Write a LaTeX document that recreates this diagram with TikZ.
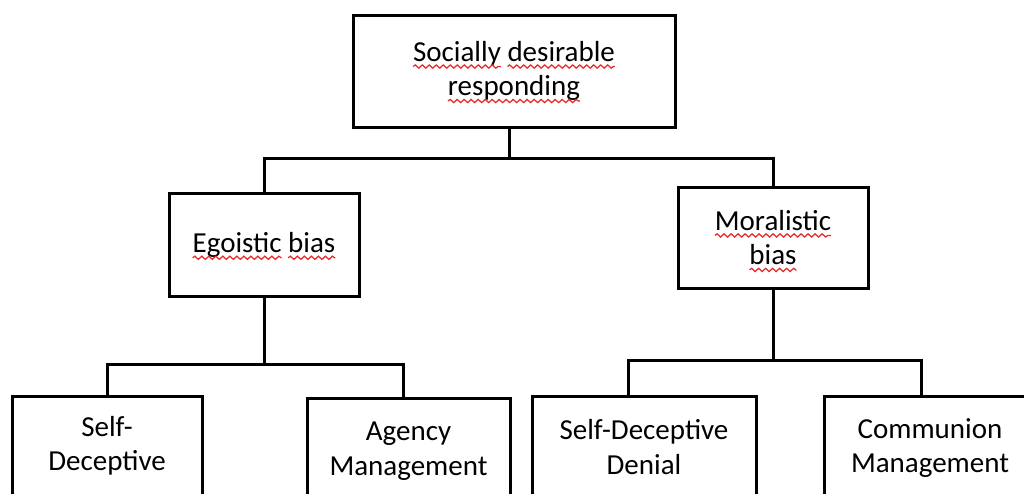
\documentclass[tikz,border=0pt]{standalone}
\usepackage{fontspec}
\setmainfont{Carlito}
\usetikzlibrary{decorations.pathmorphing}

\definecolor{spellred}{RGB}{232,40,40}

\tikzset{
  box/.style={draw, line width=3pt, shape=rectangle, align=center, inner sep=0pt,
    font=\fontsize{29}{34.5}\selectfont},
  spellword/.style={draw=none, inner sep=0pt, outer sep=0pt, minimum width=0pt,
    minimum height=0pt, line width=0.4pt},
  spellline/.style={draw=spellred, line width=1.25pt, overlay, decorate,
    decoration={snake, amplitude=1.6pt, segment length=7pt}}
}
\newcommand{\spell}[1]{\tikz[baseline=(w.base)]{\node[spellword] (w) {#1};
  \draw[spellline] ([yshift=-5.2pt]w.base west) -- ([yshift=-5.2pt]w.base east);}}

\begin{document}
\begin{tikzpicture}[x=1pt, y=-1pt]

\useasboundingbox (0,0) rectangle (1024,493);
\clip (0,0) rectangle (1024,493);

\node (sdr) at (514,71) [box, minimum width=322pt, minimum height=112pt]
  {\spell{Socially} \spell{desirable}\\\spell{responding}};

\node (ego) at (264,245) [box, minimum width=190pt, minimum height=103pt]
  {\spell{Egoistic} \spell{bias}};
\node (moral) at (773,237.5) [box, minimum width=190pt, minimum height=101pt]
  {\spell{Moralistic}\\\spell{bias}};

\node (selfdec) at (107,446) [box, minimum width=190pt, minimum height=100pt] {Self-\\Deceptive};
\node (agency) at (408.5,451) [box, minimum width=203pt, minimum height=106pt] {Agency\\Management};
\node (sdd) at (644,447) [box, minimum width=224pt, minimum height=102pt] {Self-Deceptive\\Denial};
\node (comm) at (930,448) [box, minimum width=212pt, minimum height=104pt] {Communion\\Management};

\coordinate (top) at (509,158);
\coordinate (egobar) at (264,364);
\coordinate (egoL) at (107,364);
\coordinate (egoR) at (403,364);
\coordinate (moralbar) at (773,360);
\coordinate (moralL) at (628,360);
\coordinate (moralR) at (921,360);

\draw[line width=3pt] (sdr.south -| top) -- (top);
\draw[line width=3pt] (ego.north) |- (top) -| (moral.north);

\foreach \p/\a/\b in {ego/selfdec/agency, moral/sdd/comm}
  \draw[line width=3pt] (\p.south) -- (\p bar)
    (\a.north -| \p L) -- (\p L) -- (\p R) -- (\b.north -| \p R);

\end{tikzpicture}
\end{document}
